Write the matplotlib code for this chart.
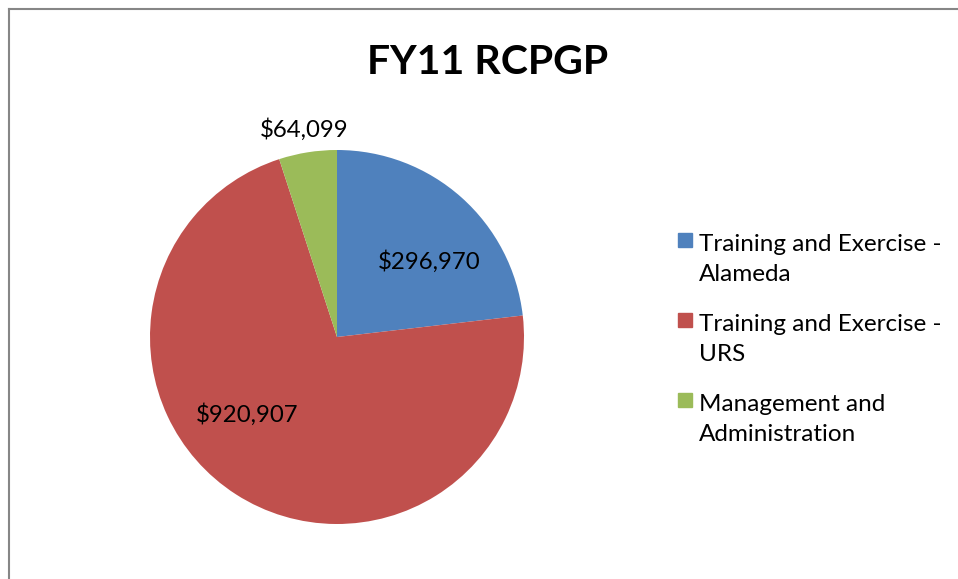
import matplotlib
matplotlib.use("Agg")
import matplotlib.pyplot as plt
from matplotlib.lines import Line2D

plt.rcParams["font.family"] = ["Lato", "DejaVu Sans"]

# Data
categories = ["Training and Exercise -\nAlameda", "Training and Exercise -\nURS",
              "Management and\nAdministration"]
amounts = [296970, 920907, 64099]
colors = ["#4F81BD", "#C0504D", "#9BBB59"]

W, H = 958, 579
fig = plt.figure(figsize=(W / 100, H / 100), dpi=100)
fig.patch.set_facecolor("white")

# chart-area border (only top and left visible in the crop)
fig.add_artist(Line2D([8.5 / W, 8.5 / W], [0, 1 - 8.5 / H], color="#868686",
                      lw=1.5, transform=fig.transFigure))
fig.add_artist(Line2D([8.5 / W, 1], [1 - 8.5 / H, 1 - 8.5 / H], color="#868686",
                      lw=1.5, transform=fig.transFigure))

fig.text(488 / W, 1 - 62 / H, "FY11 RCPGP", ha="center", va="center",
         fontsize=29.5, fontweight="bold", color="black")

cx, cy, r = 337, 337, 187
ax = fig.add_axes([(cx - r) / W, (H - cy - r) / H, 2 * r / W, 2 * r / H])
wedges, _ = ax.pie(amounts, colors=colors, startangle=90, counterclock=False,
                   radius=1, wedgeprops={"linewidth": 0})
ax.set_xlim(-1, 1)
ax.set_ylim(-1, 1)
ax.set_aspect("equal")
ax.axis("off")

# data labels placed where the reference shows them
label_pos = [(429, 262), (247, 415), (304, 130)]
for amt, (px, py) in zip(amounts, label_pos):
    fig.text(px / W, 1 - py / H, f"${amt:,}", ha="center", va="center",
             fontsize=17.3, color="black")

# legend
leg_y = [240, 320, 400]
for cat, col, ly in zip(categories, colors, leg_y):
    fig.patches.append(plt.Rectangle((678 / W, 1 - (ly + 7) / H), 14 / W, 14 / H,
                                     color=col, transform=fig.transFigure))
    fig.text(699 / W, 1 - (ly - 6) / H, cat, ha="left", va="top",
             fontsize=17.5, color="black", linespacing=1.52)

fig.savefig("out.png", dpi=100, facecolor="white")
